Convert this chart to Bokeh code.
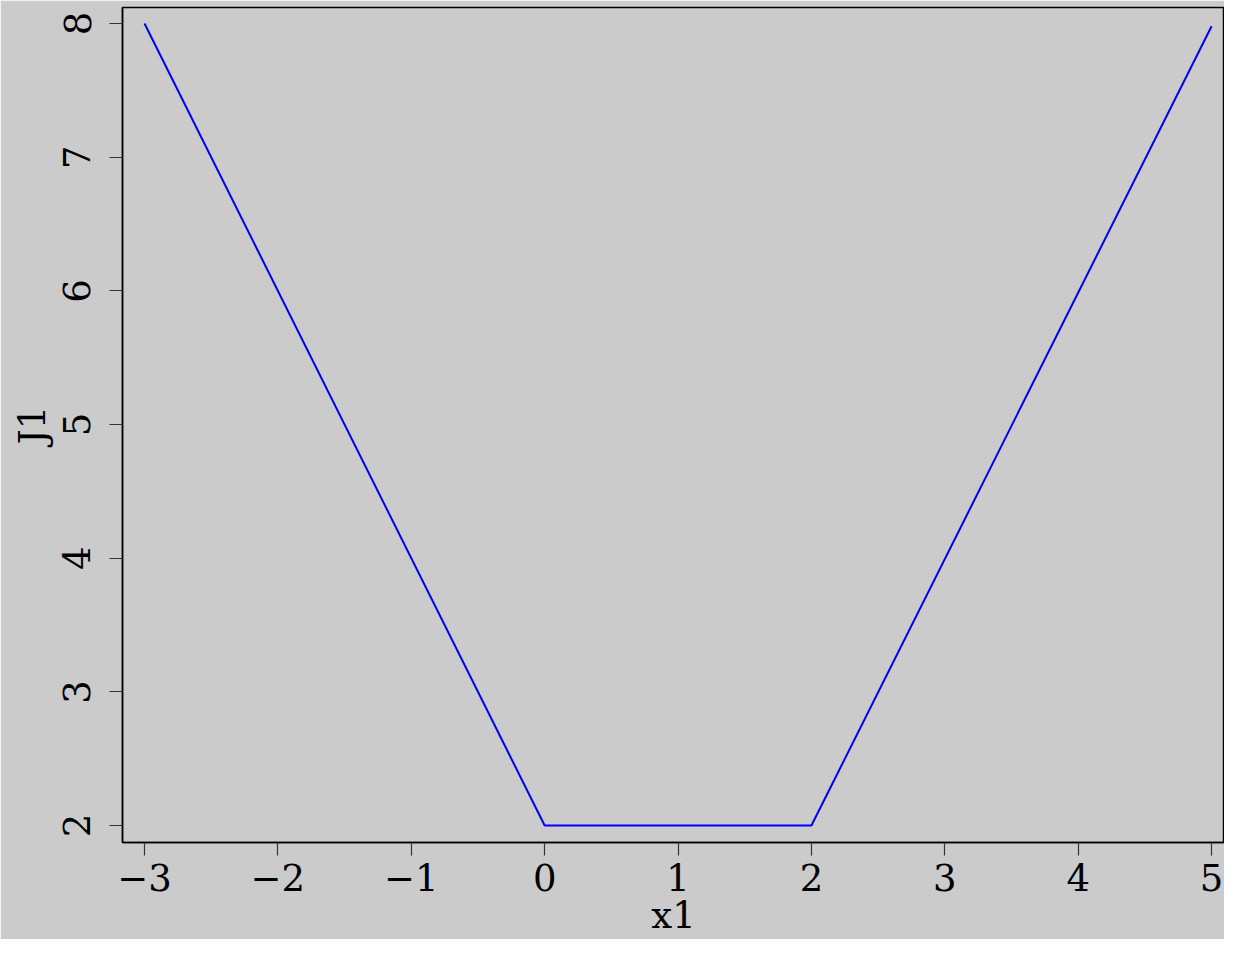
from bokeh.plotting import figure
from bokeh.models import FixedTicker, Range1d
from bokeh.embed import file_html
from bokeh.resources import INLINE

x1 = [-3, 0, 2, 5]
J1 = [8, 2, 2, 7.98]
x_ticks = [-3, -2, -1, 0, 1, 2, 3, 4, 5]
y_ticks = [2, 3, 4, 5, 6, 7, 8]

bg = "#cbcbcb"
FONT = "DejaVu Serif"

p = figure(width=1224, height=939, output_backend="svg", toolbar_location=None,
           x_range=Range1d(-3.165, 5.097), y_range=Range1d(1.873, 8.12),
           min_border_left=122, min_border_right=0, min_border_top=7, min_border_bottom=96)
p.background_fill_color = bg
p.border_fill_color = bg
p.outline_line_color = "black"
p.outline_line_width = 1.5
p.grid.visible = False

p.line(x1, J1, line_color="#0000ff", line_width=2)

for ax, ticks in ((p.xaxis[0], x_ticks), (p.yaxis[0], y_ticks)):
    ax.ticker = FixedTicker(ticks=ticks)
    ax.minor_tick_line_color = None
    ax.major_tick_in = 0
    ax.major_tick_out = 13
    ax.major_tick_line_color = "#333333"
    ax.major_tick_line_width = 1.2
    ax.axis_line_color = "black"
    ax.axis_line_width = 1.5
    ax.major_label_text_font = FONT
    ax.major_label_text_font_size = "37px"
    ax.major_label_text_color = "black"
    ax.axis_label_text_font = FONT
    ax.axis_label_text_font_size = "37px"
    ax.axis_label_text_font_style = "normal"
    ax.axis_label_text_color = "black"

p.xaxis.axis_label = "x1"
p.yaxis.axis_label = "J1"
p.xaxis.major_label_standoff = 8
p.xaxis.axis_label_standoff = 0
p.yaxis.major_label_orientation = "parallel"
p.yaxis.major_label_standoff = 19
p.yaxis.axis_label_standoff = 7

open("out.html", "w").write(file_html(p, INLINE))
